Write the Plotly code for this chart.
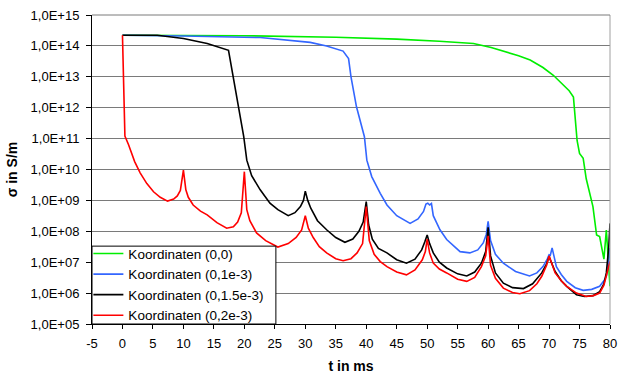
import math
import plotly.graph_objects as go

# ---- data ----
t_green = [0, 20, 35, 45, 52, 57.6, 60.5, 63, 65, 66.9, 69, 70.7, 72.3, 73.3, 74.0, 74.3, 74.6, 75.0, 75.6, 76.1, 76.6,
           77.2, 77.8, 78.3, 79.0, 79.4, 80]
v_green = [2.2e14, 2.14e14, 1.9e14, 1.66e14, 1.41e14, 1.2e14, 8.9e13, 6.5e13, 4.8e13, 3.5e13, 2.0e13, 1.12e13, 5.4e12,
           3.55e12, 2.2e12, 5.0e11, 8.7e10, 3.3e10, 2.3e10, 5.0e9, 1.8e9, 6.3e8, 7.6e7, 6.8e7, 1.26e7, 1.1e8, 1.66e6]

t_blue = [0, 10, 22.6, 27.5, 30.8, 33.5, 36.2, 37.1, 37.5, 38.4, 39.0, 39.7, 40.1, 40.9, 42.3, 43.4, 45, 47.2, 48.5, 49.4,
          49.8, 50.1, 50.4, 50.7, 51.0, 51.5, 52.1, 53.2, 55.4, 57, 58.3, 59.2, 59.7, 60, 60.4, 61.2, 62.5, 64.5, 66.8, 68,
          69, 69.7, 70, 70.2, 70.5, 70.8, 71.2, 72, 72.9, 74.3, 75.6, 77, 78.3, 79, 79.4, 79.8, 80]
v_blue = [2.2e14, 2.1e14, 1.86e14, 1.5e14, 1.3e14, 1.0e14, 6.8e13, 3.9e13, 1.0e13, 1.07e12, 4.0e11, 1.15e11, 2.0e10, 5.9e9,
          1.7e9, 7.1e8, 3.2e8, 1.8e8, 2.5e8, 4.4e8, 7.6e8, 8.1e8, 7.1e8, 7.9e8, 3.2e8, 2.0e8, 1.12e8, 5.4e7, 2.2e7, 2.0e7,
          2.5e7, 4.2e7, 7.9e7, 2.1e8, 5.0e7, 1.8e7, 9.3e6, 5.0e6, 3.6e6, 4.5e6, 7.2e6, 1.26e7, 1.74e7, 1.66e7, 2.9e7, 1.6e7,
          7.2e6, 4.0e6, 2.4e6, 1.5e6, 1.23e6, 1.32e6, 1.66e6, 2.5e6, 3.5e6, 1.0e7, 2.9e7]

t_black = [0, 5.7, 10, 13.9, 17.4, 18.2, 19.0, 19.9, 20.4, 21.2, 22.6, 24.2, 25.5, 27.2, 28.3, 29.2, 29.7, 30, 30.4, 30.9,
           32, 33.5, 35, 36.5, 37.8, 38.8, 39.5, 40, 40.4, 41, 42, 43.4, 45, 46.6, 48, 49.1, 49.6, 50, 50.4, 51, 52, 53.2,
           55, 56.5, 57.8, 58.9, 59.6, 60, 60.4, 61.2, 62.5, 64, 65.8, 67.3, 68.8, 69.6, 70, 70.5, 71, 72, 72.9, 74.5,
           75.8, 77.2, 78.3, 79, 79.4, 79.8, 80]
v_black = [2.2e14, 2.2e14, 1.74e14, 1.2e14, 7.2e13, 1e13, 1.07e12, 1.15e11, 2.0e10, 6.3e9, 2.2e9, 8.1e8, 5.0e8, 3.2e8,
           4.0e8, 6.3e8, 1.0e9, 2.0e9, 1.0e9, 5.6e8, 2.2e8, 1.12e8, 6.3e7, 4.4e7, 5.6e7, 1.0e8, 2.0e8, 9.1e8, 1.6e8, 5.6e7,
           2.8e7, 2.0e7, 1.2e7, 9.3e6, 1.26e7, 2.5e7, 4.5e7, 7.6e7, 4.0e7, 2.0e7, 1.0e7, 6.5e6, 4.2e6, 3.6e6, 4.8e6,
           9.3e6, 2.2e7, 1.35e8, 1.6e7, 4.5e6, 2.1e6, 1.5e6, 1.4e6, 2.0e6, 4.5e6, 8.9e6, 1.5e7, 8.9e6, 5.0e6, 2.5e6,
           1.66e6, 8.9e5, 7.8e5, 8.3e5, 1.12e6, 2.0e6, 4.5e6, 3.2e7, 1.8e8]

t_red = [0, 0.4, 1.0, 2.0, 2.9, 4.0, 5.1, 6.2, 7.4, 8.4, 9.0, 9.5, 10.0, 10.4, 10.8, 11.6, 12.8, 13.9, 15.5, 17.1, 18.2,
         18.9, 19.5, 20.0, 20.4, 20.9, 22.0, 23.5, 25.5, 27.2, 28.5, 29.4, 30.0, 30.5, 31.3, 32.3, 33.5, 35.0, 36.2, 37.5,
         38.5, 39.4, 40.0, 40.5, 41.3, 42.3, 43.4, 45.0, 46.6, 48.0, 49.2, 49.7, 50.0, 50.4, 51.0, 52.0, 53.2, 55.0, 56.5,
         57.8, 58.9, 59.6, 60.0, 60.4, 61.2, 62.5, 64.0, 65.2, 66.8, 68.0, 68.8, 69.6, 70.0, 70.5, 71.0, 72.0, 72.9, 74.5,
         76.1, 77.3, 78.3, 79.0, 79.4, 79.8, 80.0]
v_red = [2.2e14, 1.2e11, 6.3e10, 1.8e10, 7.8e9, 3.5e9, 1.9e9, 1.26e9, 9.5e8, 1.1e9, 1.4e9, 2.1e9, 9.5e9, 2.2e9, 1.26e9,
         7.1e8, 4.5e8, 3.4e8, 1.9e8, 1.26e8, 1.4e8, 2.0e8, 4.0e8, 8.5e9, 5.0e8, 2.2e8, 8.9e7, 5.0e7, 3.1e7, 4.0e7, 6.3e7,
         1.1e8, 3.2e8, 1.26e8, 6.3e7, 3.2e7, 2.0e7, 1.3e7, 1.12e7, 1.3e7, 2.0e7, 4.0e7, 6.3e8, 5.0e7, 1.8e7, 1.05e7,
         7.2e6, 4.8e6, 3.9e6, 5.6e6, 1.2e7, 2.2e7, 5.6e7, 2.0e7, 9.3e6, 6.0e6, 4.5e6, 2.8e6, 2.4e6, 3.2e6, 7.2e6, 1.6e7,
         7.1e7, 7.9e6, 3.0e6, 1.45e6, 1.05e6, 9.5e5, 1.2e6, 2.0e6, 3.5e6, 7.9e6, 1.6e7, 8.9e6, 4.5e6, 2.5e6, 1.66e6,
         1.0e6, 7.8e5, 8.3e5, 1.0e6, 1.8e6, 3.5e6, 7.1e6, 1.05e7]

names = ["Koordinaten (0,0)", "Koordinaten (0,1e-3)", "Koordinaten (0,1.5e-3)", "Koordinaten (0,2e-3)"]
colors = ["#00EE00", "#3366FF", "#000000", "#FF0000"]

y_tickvals = [1e5, 1e6, 1e7, 1e8, 1e9, 1e10, 1e11, 1e12, 1e13, 1e14, 1e15]
y_ticktext = ["1,0E+05", "1,0E+06", "1,0E+07", "1,0E+08", "1,0E+09", "1,0E+10",
              "1,0E+11", "1,0E+12", "1,0E+13", "1,0E+14", "1,0E+15"]
x_tickvals = list(range(-5, 81, 5))
x_ticktext = [str(v) for v in x_tickvals]

minor_vals = [k * 10.0 ** e for e in range(5, 15) for k in range(2, 10)]

fig = go.Figure()
for t, v, n, c in zip([t_green, t_blue, t_black, t_red], [v_green, v_blue, v_black, v_red], names, colors):
    fig.add_trace(go.Scatter(x=t, y=v, mode="lines", name=n, line=dict(color=c, width=1.6)))

# minor tick marks on the log axis (decorations, not data); shapes on log axes take log10 positions
minor_shapes = [dict(type="line", xref="paper", yref="y", x0=-0.009, x1=0, y0=math.log10(m), y1=math.log10(m),
                     line=dict(color="black", width=1)) for m in minor_vals]

font = "Liberation Sans, Arial, sans-serif"
fig.update_layout(
    width=624, height=374,
    margin=dict(l=92, r=14, t=15, b=50),
    paper_bgcolor="white", plot_bgcolor="white",
    font=dict(family=font, size=13, color="black"),
    showlegend=True,
    legend=dict(x=-0.007, y=0.2775, xanchor="left", yanchor="top", bgcolor="rgba(0,0,0,0)",
                borderwidth=0, font=dict(size=13.5), tracegroupgap=0, itemwidth=30),
    xaxis=dict(range=[-5, 80], tickvals=x_tickvals, ticktext=x_ticktext, ticks="outside", ticklen=4,
               tickcolor="black", showline=True, linecolor="black", linewidth=1, showgrid=False, zeroline=False,
               ticklabelstandoff=3, automargin=False,
               title=dict(text="<b>t in ms</b>", font=dict(size=14), standoff=19)),
    yaxis=dict(type="log", range=[5, 15], tickvals=y_tickvals, ticktext=y_ticktext, ticks="outside",
               ticklen=5, tickcolor="black", showline=True, linecolor="black", linewidth=1,
               showgrid=True, gridcolor="#7a7a7a", gridwidth=1, zeroline=False, ticklabelstandoff=4,
               automargin=False,
               title=dict(text="<b>σ in S/m</b>", font=dict(size=14), standoff=9)),
    shapes=[
        dict(type="line", xref="paper", yref="paper", x0=1, x1=1, y0=0, y1=1, line=dict(color="#a0a0a0", width=1)),
        dict(type="line", xref="paper", yref="paper", x0=0, x1=1, y0=1, y1=1, line=dict(color="#7a7a7a", width=1)),
        # legend frame
        dict(type="rect", xref="paper", yref="paper", x0=0, x1=0.355, y0=0, y1=0.252, layer="above",
             fillcolor="white", line=dict(color="black", width=1)),
    ] + minor_shapes,
)

fig.write_html("out.html")
